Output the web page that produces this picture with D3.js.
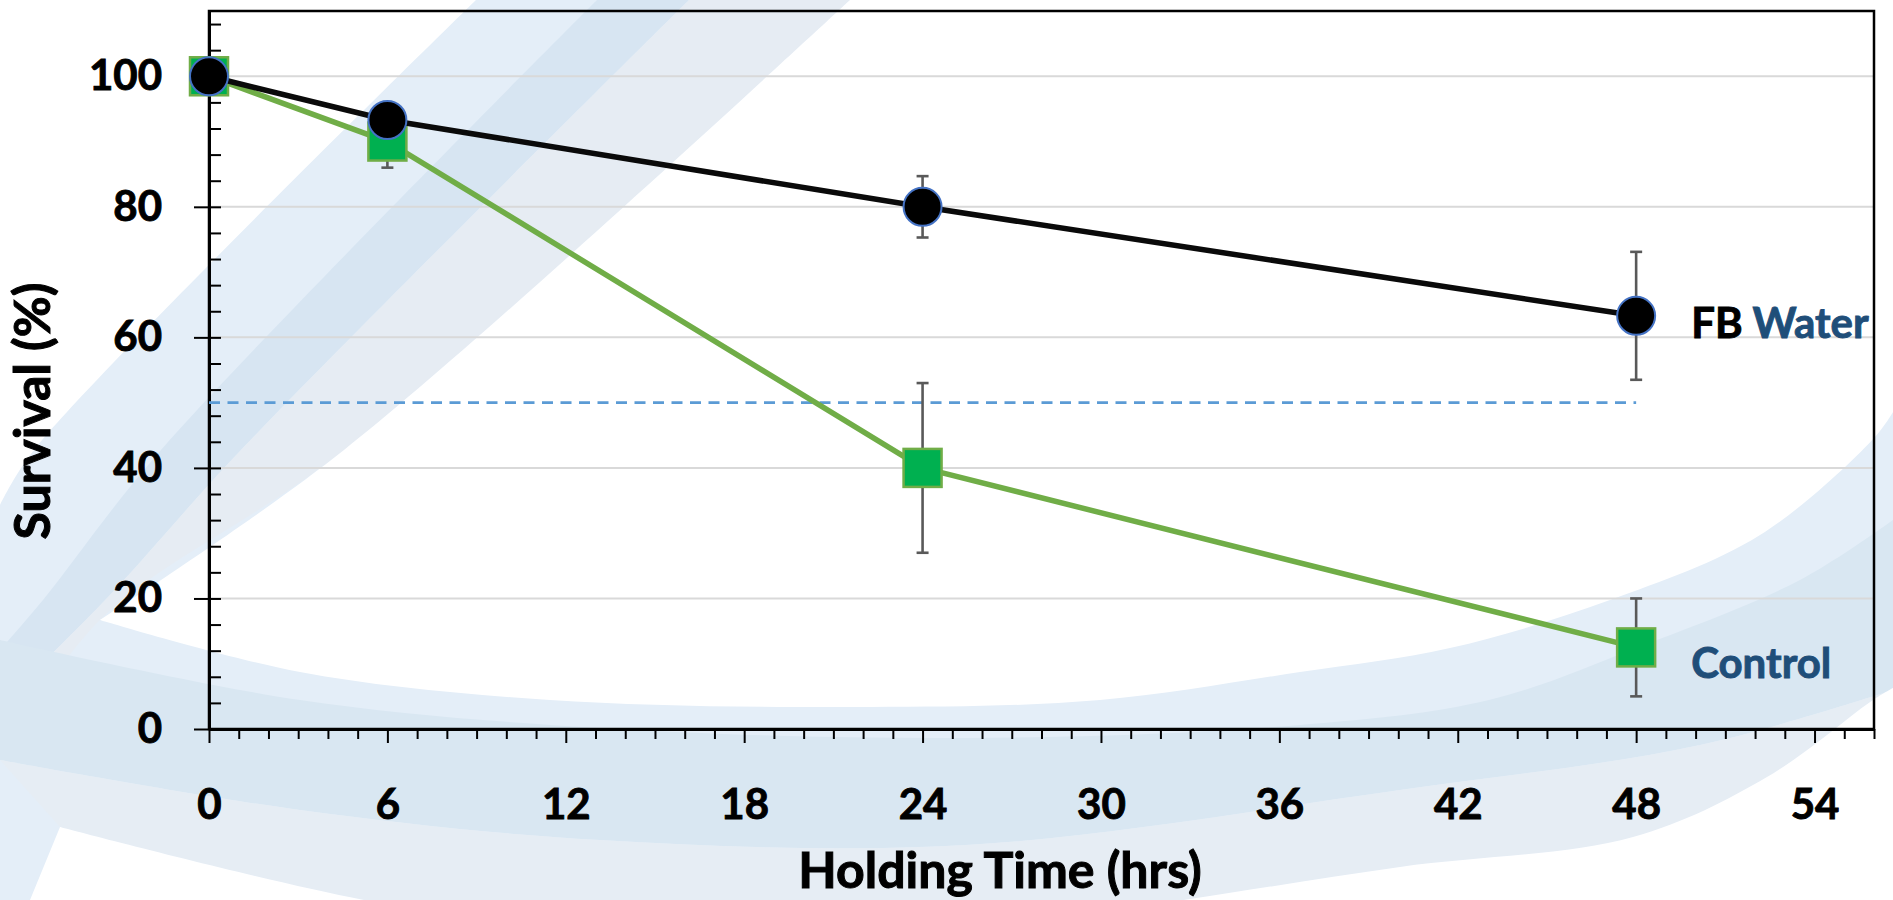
<!DOCTYPE html>
<html>
<head>
<meta charset="utf-8">
<script src="https://cdn.jsdelivr.net/npm/d3@7"></script>
<style>
  body { margin: 0; background: #ffffff; }
  svg text { font-family: Lato, "Open Sans", "DejaVu Sans", sans-serif; font-weight: 700; }
</style>
</head>
<body>
<svg id="chart" width="1893" height="900"></svg>
<script>
// ---------- data ----------
const hours        = [0, 6, 24, 48];
const fbWater      = [100, 93.3, 80, 63.3];
const fbWaterErr   = [0, 0, 4.7, 9.8];
const control      = [100, 90, 40, 12.5];
const controlErr   = [0, 4, 13, 7.5];
const thresholdY   = 50;           // dashed reference line
const thresholdX   = [0, 48];
const xTickValues  = [0, 6, 12, 18, 24, 30, 36, 42, 48, 54];
const yTickValues  = [0, 20, 40, 60, 80, 100];
const xDomain      = [0, 56];
const yDomain      = [0, 110];
const xTitle       = "Holding Time (hrs)";
const yTitle       = "Survival (%)";

// ---------- decorative watermark (background picture) ----------
const wm = {
  e0: [[476,0],[34,450],[0,505]],
  e1: [[597,0],[161,450],[43,600],[0,650]],
  e2: [[689,0],[241,450],[110,595],[0,705]],
  e3: [[850,0],[344,450],[100,620]],
  e3x: [[850,0],[344,450],[100,620],[0,760]],
  U0: [[100,620],[300,672],[550,700],[870,707],[1100,700],[1300,672],[1450,648],[1610,600],[1760,535],[1875,437],[1893,412]],
  U1: [[0,640],[300,700],[600,728],[966,738],[1300,725],[1489,700],[1636,648],[1800,580],[1893,520]],
  U2: [[0,760],[300,810],[600,840],[966,845],[1400,790],[1700,745],[1893,690]],
  U3: [[60,827],[364,900],[760,960],[1150,905],[1400,867],[1633,837],[1767,777],[1873,700],[1893,688]]
};

const W = 1893, H = 900;
const M = { left: 209, right: 1874, top: 11, bottom: 729 };

const svg = d3.select("#chart");

// watermark
const wmLine = d3.line().curve(d3.curveCatmullRom.alpha(0.5));
function band(a, b) { return wmLine(a) + "L" + wmLine(b.slice().reverse()).slice(1) + "Z"; }
const bg = svg.append("g").attr("class", "watermark");
bg.append("rect").attr("width", W).attr("height", H).attr("fill", "#e4eef8");
bg.append("path").attr("d", wmLine(wm.e0) + "L0,0Z").attr("fill", "#ffffff");
bg.append("path").attr("d", band(wm.e1, wm.e2)).attr("fill", "#d7e5f2");
bg.append("path").attr("d", band(wm.e2, wm.e3x)).attr("fill", "#e6ecf3");
bg.append("path").attr("d", band(wm.U1, wm.U2)).attr("fill", "#d9e7f2");
bg.append("path").attr("d", band(wm.U2, wm.U3)).attr("fill", "#e6edf4");
bg.append("path").attr("d", wmLine(wm.e3) + "L" + wmLine(wm.U0).slice(1) + "L1893,0Z").attr("fill", "#ffffff");
bg.append("path").attr("d", wmLine(wm.U3) + "L1893,900L30,900Z").attr("fill", "#ffffff");

// ---------- scales ----------
const x = d3.scaleLinear().domain(xDomain).range([M.left, M.right]);
const y = d3.scaleLinear().domain(yDomain).range([M.bottom, M.top]);

// gridlines
svg.append("g").selectAll("line").data(yTickValues.filter(v => v > 0)).join("line")
  .attr("x1", M.left).attr("x2", M.right)
  .attr("y1", d => y(d)).attr("y2", d => y(d))
  .attr("stroke", "#d9d9d9").attr("stroke-width", 2);

// plot border
svg.append("rect").attr("x", M.left).attr("y", M.top)
  .attr("width", M.right - M.left).attr("height", M.bottom - M.top)
  .attr("fill", "none").attr("stroke", "#000").attr("stroke-width", 2.5);

// ---------- axes ----------
const xMinor = d3.range(xDomain[0], xDomain[1] + 1, 1).filter(v => v % 6 !== 0 || v > 54);
const yMinor = d3.range(0, 110, 4).filter(v => v % 20 !== 0);

const gxMinor = svg.append("g").attr("transform", `translate(0,${M.bottom})`)
  .call(d3.axisBottom(x).tickValues(xMinor).tickSize(10).tickSizeOuter(0).tickFormat(""));
const gx = svg.append("g").attr("transform", `translate(0,${M.bottom})`)
  .call(d3.axisBottom(x).tickValues(xTickValues).tickSize(14).tickSizeOuter(0).tickPadding(46));
const gyIn = svg.append("g").attr("transform", `translate(${M.left},0)`)
  .call(d3.axisRight(y).tickValues(yMinor.concat(yTickValues)).tickSize(12).tickSizeOuter(0).tickFormat(""));
const gy = svg.append("g").attr("transform", `translate(${M.left},0)`)
  .call(d3.axisLeft(y).tickValues(yTickValues).tickSize(15).tickSizeOuter(0).tickPadding(32));

[gxMinor, gx, gyIn, gy].forEach(g => {
  g.selectAll(".tick line").attr("stroke", "#000").attr("stroke-width", 2);
  g.select(".domain").attr("stroke", "#000").attr("stroke-width", 3);
  g.selectAll("text").attr("fill", "#000").style("font-size", "42px")
    .attr("font-family", null)
    .attr("stroke", "#000").attr("stroke-width", 0.9);
});

// axis titles
svg.append("text").attr("x", 1000).attr("y", 888).attr("text-anchor", "middle")
  .style("font-size", "50px").attr("fill", "#000")
  .attr("stroke", "#000").attr("stroke-width", 1).text(xTitle);
svg.append("text").attr("transform", "translate(50,411) rotate(-90)").attr("text-anchor", "middle")
  .style("font-size", "50px").attr("fill", "#000")
  .attr("stroke", "#000").attr("stroke-width", 1).text(yTitle);

// dashed reference line
svg.append("line")
  .attr("x1", x(thresholdX[0])).attr("x2", x(thresholdX[1]))
  .attr("y1", y(thresholdY)).attr("y2", y(thresholdY))
  .attr("stroke", "#5b9bd5").attr("stroke-width", 2.6).attr("stroke-dasharray", "11,7.5");

// ---------- series ----------
const line = d3.line().x(d => x(d.h)).y(d => y(d.v));
function rows(vals, errs) { return hours.map((h, i) => ({ h, v: vals[i], e: errs[i] })); }

function drawSeries(data, color, markerFn) {
  const g = svg.append("g");
  g.append("path").datum(data).attr("d", line).attr("fill", "none")
    .attr("stroke", color).attr("stroke-width", 5.5).attr("stroke-linejoin", "round");
  const eb = g.append("g").selectAll("g").data(data.filter(d => d.e > 0)).join("g")
    .attr("stroke", "#595959").attr("stroke-width", 2.6);
  eb.append("line").attr("x1", d => x(d.h)).attr("x2", d => x(d.h))
    .attr("y1", d => y(d.v - d.e)).attr("y2", d => y(d.v + d.e));
  eb.append("line").attr("x1", d => x(d.h) - 6).attr("x2", d => x(d.h) + 6)
    .attr("y1", d => y(d.v - d.e)).attr("y2", d => y(d.v - d.e));
  eb.append("line").attr("x1", d => x(d.h) - 6).attr("x2", d => x(d.h) + 6)
    .attr("y1", d => y(d.v + d.e)).attr("y2", d => y(d.v + d.e));
  markerFn(g.append("g").selectAll("g").data(data).join("g"));
}

const controlData = rows(control, controlErr);
const fbData = rows(fbWater, fbWaterErr);

drawSeries(controlData, "#70ad47", sel => sel.append("rect")
  .attr("x", d => x(d.h) - 19).attr("y", d => y(d.v) - 19)
  .attr("width", 38).attr("height", 38)
  .attr("fill", "#00b050").attr("stroke", "#70ad47").attr("stroke-width", 2.5));

drawSeries(fbData, "#0a0a0a", sel => sel.append("circle")
  .attr("cx", d => x(d.h)).attr("cy", d => y(d.v)).attr("r", 19)
  .attr("fill", "#000").attr("stroke", "#4472c4").attr("stroke-width", 2));

// series labels
const lastFB = fbData[fbData.length - 1];
const lab1 = svg.append("text").attr("x", x(lastFB.h) + 55).attr("y", y(lastFB.v) + 22)
  .style("font-size", "42px").attr("stroke-width", 0.9);
lab1.append("tspan").attr("fill", "#000").attr("stroke", "#000").text("FB ");
lab1.append("tspan").attr("fill", "#1f4e79").attr("stroke", "#1f4e79").text("Water");

const lastC = controlData[controlData.length - 1];
svg.append("text").attr("x", x(lastC.h) + 55).attr("y", y(lastC.v) + 31)
  .style("font-size", "42px").attr("fill", "#1f4e79")
  .attr("stroke", "#1f4e79").attr("stroke-width", 0.9).text("Control");
</script>
</body>
</html>
